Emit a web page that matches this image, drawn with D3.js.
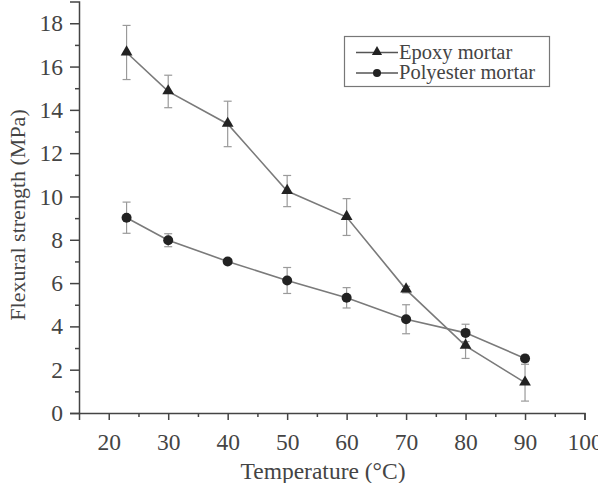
<!DOCTYPE html>
<html>
<head>
<meta charset="utf-8">
<script src="https://cdn.jsdelivr.net/npm/d3@7"></script>
<style>
  body { margin: 0; background: #fff; }
  svg text { font-family: "Liberation Serif", "Times New Roman", serif; fill: #444; }
</style>
</head>
<body>
<div class="chart"></div>
<script>
// data
const temps = [23, 30, 40, 50, 60, 70, 80, 90];
const epoxy = [16.65, 14.85, 13.35, 10.25, 9.05, 5.7, 3.1, 1.4];
const epoxyErr = [1.25, 0.75, 1.05, 0.72, 0.85, 0.15, 0.58, 0.85];
const polyester = [9.02, 7.98, 7.0, 6.12, 5.32, 4.33, 3.7, 2.52];
const polyesterErr = [0.72, 0.3, 0.12, 0.6, 0.47, 0.67, 0.4, 0.15];
const xTicks = [20, 30, 40, 50, 60, 70, 80, 90, 100];
const yTicks = [0, 2, 4, 6, 8, 10, 12, 14, 16, 18];
const seriesNames = ['Epoxy mortar', 'Polyester mortar'];

const width = 598, height = 483;

const svg = d3.select('.chart').append('svg')
    .attr('width', width)
    .attr('height', height);

const x = d3.scaleLinear().domain([15, 100]).range([79, 584.5]);
const y = d3.scaleLinear().domain([0, 19]).range([413, 1.6]);

// axes
const axisColor = '#444';

svg.append('g')
    .attr('transform', 'translate(79,0)')
    .call(d3.axisLeft(y).tickValues(yTicks).tickSize(9).tickPadding(7).tickFormat(d3.format('d')));
svg.append('g')
    .attr('transform', 'translate(79,0)')
    .call(d3.axisLeft(y).tickValues(d3.range(1, 19, 2)).tickSize(4).tickFormat(''))
    .call(g => g.select('.domain').remove());

svg.append('g')
    .attr('transform', 'translate(0,413)')
    .call(d3.axisBottom(x).tickValues(xTicks).tickSize(7).tickPadding(13).tickFormat(d3.format('d')));
svg.append('g')
    .attr('transform', 'translate(0,413)')
    .call(d3.axisBottom(x).tickValues(d3.range(25, 100, 10)).tickSize(4).tickFormat(''))
    .call(g => g.select('.domain').remove());

svg.selectAll('.domain, .tick line')
    .attr('stroke', axisColor)
    .attr('stroke-width', 1.5);
svg.selectAll('.tick text')
    .attr('font-size', 23.5)
    .style('font-family', '"Liberation Serif", serif')
    .attr('fill', '#444');

// axis titles
svg.append('text')
    .text('Temperature (°C)')
    .attr('x', 323)
    .attr('y', 479)
    .attr('text-anchor', 'middle')
    .attr('font-size', 23.5);

svg.append('text')
    .text('Flexural strength (MPa)')
    .attr('transform', 'translate(25,215) rotate(-90)')
    .attr('text-anchor', 'middle')
    .attr('font-size', 22);

// series
const lineColor = '#7a7a7a';
const markColor = '#222';
const errColor = '#9a9a9a';

const line = d3.line()
    .x((d, i) => x(temps[i]))
    .y(d => y(d));

function drawErrors(vals, errs) {
    const g = svg.append('g')
        .attr('stroke', errColor)
        .attr('stroke-width', 1.2);
    vals.forEach((v, i) => {
        const cx = x(temps[i]);
        g.append('line')
            .attr('x1', cx).attr('x2', cx)
            .attr('y1', y(v + errs[i])).attr('y2', y(v - errs[i]));
        [v + errs[i], v - errs[i]].forEach(e => {
            g.append('line')
                .attr('x1', cx - 4).attr('x2', cx + 4)
                .attr('y1', y(e)).attr('y2', y(e));
        });
    });
}

drawErrors(epoxy, epoxyErr);
drawErrors(polyester, polyesterErr);

svg.append('path')
    .datum(epoxy)
    .attr('d', line)
    .attr('fill', 'none')
    .attr('stroke', lineColor)
    .attr('stroke-width', 1.6);

svg.append('path')
    .datum(polyester)
    .attr('d', line)
    .attr('fill', 'none')
    .attr('stroke', lineColor)
    .attr('stroke-width', 1.6);

const tri = d3.symbol().type(d3.symbolTriangle).size(60);

svg.selectAll('.tri')
    .data(epoxy)
    .join('path')
    .attr('class', 'tri')
    .attr('d', tri)
    .attr('transform', (d, i) => `translate(${x(temps[i])},${y(d) - 0.5})`)
    .attr('fill', markColor);

svg.selectAll('.dot')
    .data(polyester)
    .join('circle')
    .attr('class', 'dot')
    .attr('cx', (d, i) => x(temps[i]))
    .attr('cy', d => y(d))
    .attr('r', 5)
    .attr('fill', markColor);

// legend
const legend = svg.append('g');
legend.append('rect')
    .attr('x', 344.5).attr('y', 36.5)
    .attr('width', 205).attr('height', 50)
    .attr('fill', '#fff')
    .attr('stroke', '#777')
    .attr('stroke-width', 1.2);

seriesNames.forEach((name, i) => {
    const ly = 52.5 + i * 20.5;
    legend.append('line')
        .attr('x1', 356).attr('x2', 398)
        .attr('y1', ly).attr('y2', ly)
        .attr('stroke', '#555')
        .attr('stroke-width', 1.4);
    if (i === 0) {
        legend.append('path')
            .attr('d', d3.symbol().type(d3.symbolTriangle).size(45))
            .attr('transform', `translate(377,${ly - 0.5})`)
            .attr('fill', markColor);
    } else {
        legend.append('circle')
            .attr('cx', 377).attr('cy', ly)
            .attr('r', 4)
            .attr('fill', markColor);
    }
    legend.append('text')
        .text(name)
        .attr('x', 399)
        .attr('y', ly + 6)
        .attr('font-size', 20.5);
});
</script>
</body>
</html>
